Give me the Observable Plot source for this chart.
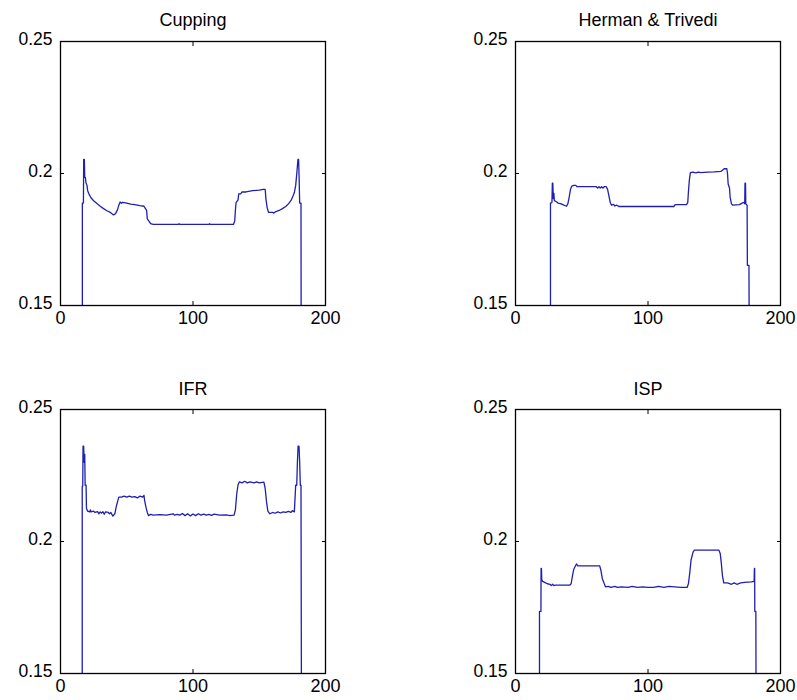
<!DOCTYPE html>
<html><head><meta charset="utf-8">
<script src="https://cdn.jsdelivr.net/npm/d3@7"></script>
<script src="https://cdn.jsdelivr.net/npm/@observablehq/plot@0.6"></script>
<style>
body{margin:0;background:#fff;}
#wrap{position:relative;width:797px;height:700px;background:#fff;overflow:hidden;}
.panel{position:absolute;}
</style></head><body><div id="wrap"></div>
<script>
const titles = ["Cupping", "Herman & Trivedi", "IFR", "ISP"];
const xTicks = [0, 100, 200];
const yTicks = [0.15, 0.2, 0.25];

const cupping = [[16.5,0.15],[16.5,0.1888],[17.3,0.1888],[17.5,0.2053],[18.0,0.2053],[18.3,0.1985],[18.8,0.1985],[19.2,0.1965],[20,0.1955],[20.5,0.1935],[21.5,0.1922],[23,0.1908],[25,0.1897],[27.5,0.1886],[30,0.1876],[32.5,0.1867],[35,0.1859],[37.5,0.1853],[40,0.1843],[41.5,0.1848],[43,0.1862],[44,0.1880],[45,0.1892],[46,0.1887],[47,0.1891],[50,0.1888],[53,0.1884],[56,0.1882],[60,0.1878],[63,0.1876],[64,0.1868],[65,0.1860],[65.5,0.1828],[67,0.1818],[68,0.1810],[70,0.1807],[89,0.1807],[89.5,0.1810],[90,0.1807],[112,0.1807],[112.5,0.1810],[113,0.1807],[130.5,0.1807],[131.5,0.1820],[132,0.1860],[132.5,0.1890],[134,0.1900],[134.5,0.1923],[136,0.1923],[137,0.1930],[140,0.1930],[145,0.1935],[150,0.1937],[153,0.1940],[154.5,0.1940],[155,0.1905],[156,0.1870],[157,0.1853],[160,0.1853],[161,0.1850],[162.5,0.1856],[165,0.1860],[167.5,0.1867],[170,0.1875],[172,0.1885],[174,0.1898],[175.5,0.1915],[176.5,0.1928],[177.5,0.1955],[178.5,0.2010],[179.2,0.2053],[179.7,0.2053],[180.1,0.1980],[180.5,0.1888],[181.5,0.1888],[181.6,0.15]];

const herman = [[26.4,0.15],[26.4,0.1888],[27.5,0.1890],[27.8,0.1963],[28.2,0.1963],[28.5,0.1905],[29,0.1925],[29.3,0.1897],[31,0.1893],[32,0.1888],[34,0.1886],[36.5,0.1880],[38.5,0.1876],[39.5,0.1885],[40.5,0.1910],[41.5,0.1940],[42.5,0.1952],[44,0.1955],[45.5,0.1955],[46.5,0.1950],[50,0.1950],[55,0.1950],[61,0.1950],[62,0.1945],[63,0.1950],[64,0.1945],[65,0.1950],[66,0.1945],[67,0.1950],[68.5,0.1950],[69.5,0.1940],[70.5,0.1915],[71.5,0.1890],[72.5,0.1880],[74,0.1883],[75,0.1877],[76.5,0.1880],[78,0.1875],[119.5,0.1875],[120.5,0.1882],[129,0.1882],[130,0.1890],[130.5,0.1930],[131.2,0.1975],[132,0.2003],[134,0.2005],[136,0.2002],[138,0.2005],[140,0.2003],[145,0.2005],[150,0.2006],[155,0.2008],[157.5,0.2018],[159.5,0.2018],[160,0.2000],[160.5,0.1960],[161.5,0.1945],[162,0.1910],[163,0.1885],[164,0.1880],[169,0.1882],[171,0.1888],[172.5,0.1891],[173.0,0.1885],[173.2,0.1963],[173.6,0.1963],[173.8,0.1885],[174.8,0.1880],[175.0,0.1652],[176.2,0.1652],[176.3,0.15]];

const ifr = [[16.4,0.15],[16.4,0.2210],[16.8,0.2210],[17,0.2361],[17.5,0.2361],[17.8,0.2300],[18.3,0.2330],[18.6,0.2213],[19.3,0.2213],[19.6,0.2125],[20.5,0.2115],[22,0.2112],[22.6,0.2120],[23,0.2112],[25,0.2115],[26,0.2110],[28,0.2113],[29,0.2105],[30,0.2112],[31,0.2108],[32,0.2113],[33,0.2103],[34,0.2112],[36,0.2110],[37,0.2105],[38,0.2110],[39.5,0.2096],[41,0.2105],[42,0.2130],[43,0.2150],[44,0.2168],[46,0.2168],[48,0.2172],[50,0.2168],[52,0.2172],[54,0.2168],[56,0.2170],[58,0.2165],[60,0.2172],[62,0.2168],[63,0.2175],[63.5,0.2155],[64.5,0.2130],[65.5,0.2110],[66.5,0.2098],[68,0.2103],[70,0.2100],[75,0.2102],[80,0.2100],[85,0.2105],[86,0.2100],[88,0.2103],[90,0.2100],[92,0.2106],[94,0.2098],[96,0.2105],[98,0.2097],[100,0.2104],[102,0.2098],[104,0.2105],[106,0.2100],[108,0.2104],[110,0.2100],[112,0.2103],[114,0.2099],[116,0.2104],[120,0.2100],[125,0.2101],[128,0.2098],[131,0.2100],[132,0.2120],[133,0.2180],[134,0.2215],[135,0.2226],[137,0.2222],[139,0.2228],[141,0.2222],[143,0.2226],[146,0.2222],[148,0.2226],[150,0.2222],[153.5,0.2225],[154.5,0.2200],[155.5,0.2150],[156.5,0.2115],[158,0.2105],[160,0.2110],[162,0.2107],[164,0.2112],[166,0.2108],[168,0.2112],[170,0.2110],[172,0.2114],[174,0.2110],[175,0.2117],[176.5,0.2112],[177.5,0.2213],[178.3,0.2213],[178.8,0.2300],[179.3,0.2361],[180,0.2361],[180.5,0.2300],[181,0.2213],[181.5,0.2213],[181.8,0.15]];

const isp = [[18.1,0.15],[18.1,0.1735],[19.2,0.1735],[19.3,0.1898],[19.6,0.1898],[19.8,0.1855],[20.5,0.1849],[22,0.1845],[24,0.1840],[26,0.1838],[27,0.1833],[28,0.1838],[29,0.1833],[30,0.1835],[35,0.1835],[41,0.1835],[42,0.1840],[43,0.1870],[44,0.1895],[45,0.1905],[46,0.1915],[47,0.1908],[50,0.1908],[55,0.1908],[60,0.1908],[63.5,0.1908],[64.5,0.1890],[65.5,0.1860],[67,0.1840],[68,0.1828],[70,0.1830],[72,0.1826],[75,0.1830],[77,0.1826],[80,0.1828],[85,0.1826],[88,0.1830],[92,0.1826],[96,0.1828],[100,0.1826],[104,0.1826],[108,0.1830],[112,0.1826],[116,0.1830],[120,0.1828],[125,0.1826],[129.5,0.1826],[130.5,0.1840],[131.5,0.1880],[132.5,0.1930],[134,0.1960],[135,0.1967],[140,0.1967],[145,0.1967],[150,0.1967],[153.5,0.1967],[154.5,0.1955],[155.3,0.1920],[156.2,0.1870],[157.2,0.1843],[160,0.1843],[163,0.1838],[165,0.1843],[167,0.1838],[170,0.1843],[173,0.1845],[178,0.1847],[180.1,0.1849],[180.3,0.1898],[180.5,0.1898],[180.6,0.1735],[181.4,0.1735],[181.5,0.15]];

const series = [cupping, herman, ifr, isp];

const layout = [
  {left: 0,   top: 0,   width: 398, height: 350, mL: 60,  mR: 73, mT: 41, mB: 45, titleDy: -16},
  {left: 398, top: 0,   width: 399, height: 350, mL: 117, mR: 17, mT: 41, mB: 45, titleDy: -16},
  {left: 0,   top: 350, width: 398, height: 350, mL: 60,  mR: 73, mT: 59, mB: 27, titleDy: -15},
  {left: 398, top: 350, width: 399, height: 350, mL: 117, mR: 17, mT: 59, mB: 27, titleDy: -15}
];

const wrap = document.getElementById("wrap");
series.forEach((data, i) => {
  const L = layout[i];
  const chart = Plot.plot({
    width: L.width, height: L.height,
    marginLeft: L.mL, marginRight: L.mR, marginTop: L.mT, marginBottom: L.mB,
    x: {domain: [0, 200], label: null},
    y: {domain: [0.15, 0.25], label: null},
    style: {fontFamily: "'Liberation Sans', Arial, sans-serif", fontSize: "17px", color: "#000", background: "transparent", overflow: "visible"},
    marks: [
      Plot.line(data, {x: d => d[0], y: d => d[1], stroke: "#1f1fb0", strokeWidth: 1.3, clip: true}),
      Plot.frame({stroke: "#000", strokeWidth: 1.3}),
      Plot.axisX(xTicks, {anchor: "bottom", tickSize: 0, tickPadding: 6, tickFormat: d => String(d), label: null, fontSize: 18}),
      Plot.axisX(xTicks, {anchor: "bottom", tickSize: 4, dy: -4, tickFormat: () => "", label: null}),
      Plot.axisX(xTicks, {anchor: "top", tickSize: 4, dy: 4, tickFormat: () => "", label: null}),
      Plot.axisY(yTicks, {anchor: "left", tickSize: 0, tickPadding: 8, tickFormat: d => String(d), label: null, dy: -2, fontSize: 17.5}),
      Plot.axisY(yTicks, {anchor: "left", tickSize: 4, dx: 4, tickFormat: () => "", label: null}),
      Plot.axisY(yTicks, {anchor: "right", tickSize: 4, dx: -4, tickFormat: () => "", label: null}),
      Plot.text([titles[i]], {text: d => d, frameAnchor: "top", dy: L.titleDy, lineAnchor: "bottom", fontSize: 18})
    ]
  });
  const div = document.createElement("div");
  div.className = "panel";
  div.style.left = L.left + "px";
  div.style.top = L.top + "px";
  div.appendChild(chart);
  wrap.appendChild(div);
});
</script>
</body></html>
